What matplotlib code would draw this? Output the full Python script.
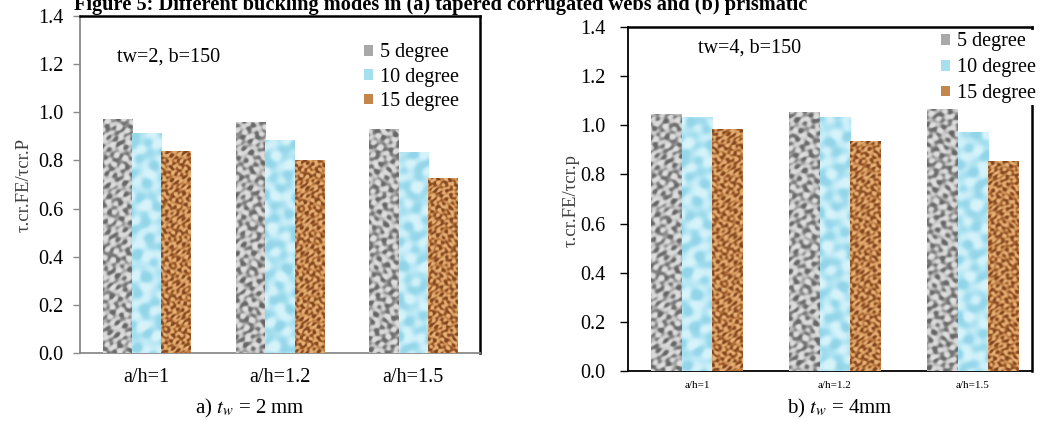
import numpy as np
import matplotlib
matplotlib.use("Agg")
import matplotlib.pyplot as plt
from matplotlib.colors import LinearSegmentedColormap
from matplotlib.patches import Patch

plt.rcParams["font.family"] = ["Liberation Serif", "DejaVu Serif"]
plt.rcParams["mathtext.fontset"] = "stix"

# ---- data ----
categories = ["a/h=1", "a/h=1.2", "a/h=1.5"]
series = ["5 degree", "10 degree", "15 degree"]

# panel a) tw = 2 mm
tw2_5deg = [0.972, 0.957, 0.930]
tw2_10deg = [0.911, 0.881, 0.834]
tw2_15deg = [0.839, 0.798, 0.727]

# panel b) tw = 4 mm
tw4_5deg = [1.045, 1.054, 1.065]
tw4_10deg = [1.031, 1.031, 0.971]
tw4_15deg = [0.981, 0.936, 0.852]

# ---- texture look of the Excel fills ----
FILLS = {
    "5 degree": ("#a9a9a9", ["#656565", "#9c9c9c", "#c6c6c6", "#e0e0e0"]),
    "10 degree": ("#a6e0ee", ["#92d4e8", "#abe2f1", "#c0eaf6", "#d8f4fb"]),
    "15 degree": ("#c5864c", ["#7c4420", "#ad6a35", "#d0945a", "#e8b47a"]),
}

# wave directions / wavenumbers (px^-1) for the mottled pattern
ANGLES = [0.31, 1.07, 1.93, 2.61, 0.74, 2.25]
WAVENUM = [1.13, 0.97, 1.29, 1.05, 0.61, 0.73]


def texture(nx, ny, phase, scale=1.0):
    """Deterministic mottled pattern (warped sum of sines), scaled 0..1."""
    yy, xx = np.mgrid[0:ny, 0:nx].astype(float)
    wx = xx + 2.2 * np.sin(0.17 * yy / scale + phase)
    wy = yy + 2.2 * np.cos(0.13 * xx / scale + 1.7 * phase)
    f = np.zeros_like(xx)
    for j, (a, k) in enumerate(zip(ANGLES, WAVENUM)):
        k = k / scale
        f += np.sin(k * (np.cos(a) * wx + np.sin(a) * wy) + phase * (j + 1))
    f = np.tanh(0.5 * f)
    f = (f - f.min()) / (f.max() - f.min())
    return f


def draw_panel(ax, vals, xlim, ax_height_px, spine_col, tick_col):
    n = len(categories)
    x = np.arange(n)
    width = 0.22
    for k, (name, v) in enumerate(zip(series, vals)):
        base, cols = FILLS[name]
        cmap = LinearSegmentedColormap.from_list(name, cols)
        bars = ax.bar(x + (k - 1) * width, v, width, color=base,
                      edgecolor="none", zorder=2)
        for i, b in enumerate(bars):
            h = b.get_height()
            ny = max(int(h / 1.4 * ax_height_px), 2)
            tex = texture(30, ny, 0.7 * i + 1.3 * k + 0.4,
                          scale=2.6 if k == 1 else (1.3 if k == 0 else 0.9))
            ax.imshow(tex, cmap=cmap, origin="lower", aspect="auto",
                      interpolation="bilinear", zorder=3,
                      extent=(b.get_x(), b.get_x() + b.get_width(), 0, h))
    ax.set_xlim(*xlim)
    ax.set_ylim(0, 1.4)
    ax.set_yticks(np.arange(0, 1.41, 0.2))
    ax.set_yticklabels([f"{t:.1f}" for t in np.arange(0, 1.41, 0.2)])
    ax.set_xticks(x)
    ax.set_xticklabels(categories)
    ax.tick_params(axis="x", length=0)
    ax.tick_params(axis="y", direction="out", length=5, width=1,
                   color=tick_col, labelsize=14.5, pad=7)
    for s in ("top", "right"):
        ax.spines[s].set_color("black")
        ax.spines[s].set_linewidth(1.8)
    for s in ("left", "bottom"):
        ax.spines[s].set_color(spine_col)
        ax.spines[s].set_linewidth(1.3)
    handles = [Patch(facecolor=FILLS[s][0], edgecolor="none", label=s)
               for s in series]
    return handles


LEG_KW = dict(loc="upper left", frameon=True, facecolor="white",
              edgecolor="none", framealpha=1, fancybox=False, fontsize=14.5,
              borderpad=0.1, borderaxespad=0, handlelength=0.45,
              handleheight=0.45, handletextpad=0.35)

fig = plt.figure(figsize=(10.41, 4.21), dpi=100)

# panel a
ax1 = fig.add_axes([80 / 1041, 68 / 421, 400 / 1041, 337 / 421])
h1 = draw_panel(ax1, [tw2_5deg, tw2_10deg, tw2_15deg], (-0.5, 2.5), 337,
                "#8a8a8a", "#8a8a8a")
ax1.tick_params(axis="x", labelsize=14.5, pad=11)
ax1.set_ylabel("τ.cr.FE/τcr.P", fontsize=13.5, color="#404040", va="center")
ax1.yaxis.set_label_coords(-0.14, 0.5)
ax1.text(-0.22, 1.23, "tw=2, b=150", fontsize=14.5, ha="left", va="center")
ax1.legend(handles=h1, bbox_to_anchor=(0.705, 0.925), labelspacing=0.27,
           **LEG_KW)

# panel b
ax2 = fig.add_axes([628 / 1041, 50 / 421, 404 / 1041, 344 / 421])
h2 = draw_panel(ax2, [tw4_5deg, tw4_10deg, tw4_15deg], (-0.5, 2.43), 344,
                "black", "black")
ax2.tick_params(axis="x", labelsize=8, pad=7)
ax2.tick_params(axis="y", pad=10, length=6)
ax2.set_ylabel("τ.cr.FE/τcr.p", fontsize=13.5, color="#404040", va="center")
ax2.yaxis.set_label_coords(-0.14, 0.497)
ax2.text(0.007, 1.315, "tw=4, b=150", fontsize=14.5, ha="left", va="center")
ax2.legend(handles=h2, bbox_to_anchor=(0.77, 0.99), labelspacing=0.34,
           **LEG_KW)

# captions and clipped figure title
fig.text(250 / 1041, 1 - 408 / 421, r"a) $t_w$ = 2 mm", fontsize=15,
         ha="center", va="center")
fig.text(840 / 1041, 1 - 408 / 421, r"b) $t_w$ = 4mm", fontsize=15,
         ha="center", va="center")
fig.text(441 / 1041, 1 - 10 / 421,
         "Figure 5: Different buckling modes in (a) tapered corrugated webs "
         "and (b) prismatic",
         fontsize=14.7, fontweight="bold", ha="center", va="baseline")

fig.savefig("out.png", dpi=100)
